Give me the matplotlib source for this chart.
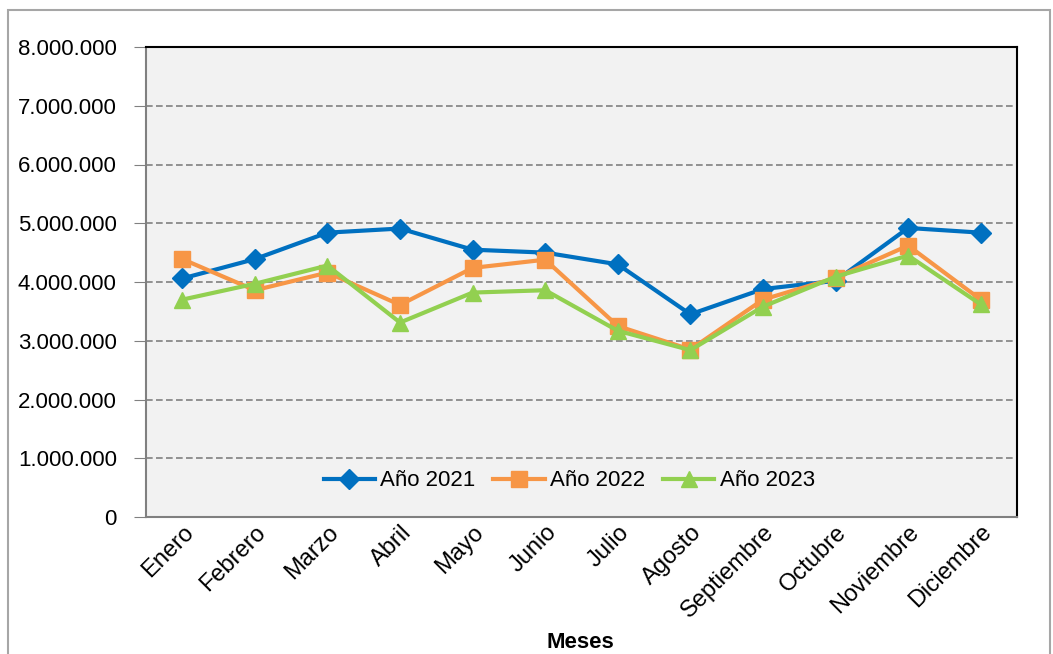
import matplotlib
matplotlib.use("Agg")
import matplotlib.pyplot as plt
from matplotlib.patches import Rectangle
from matplotlib.ticker import FuncFormatter

meses = ["Enero", "Febrero", "Marzo", "Abril", "Mayo", "Junio", "Julio",
         "Agosto", "Septiembre", "Octubre", "Noviembre", "Diciembre"]
anio_2021 = [4060000, 4390000, 4840000, 4910000, 4550000, 4500000,
             4300000, 3450000, 3880000, 4020000, 4920000, 4840000]
anio_2022 = [4390000, 3860000, 4160000, 3610000, 4240000, 4380000,
             3250000, 2850000, 3700000, 4070000, 4620000, 3700000]
anio_2023 = [3700000, 3970000, 4280000, 3310000, 3820000, 3860000,
             3170000, 2840000, 3580000, 4090000, 4450000, 3620000]
yticks = [0, 1000000, 2000000, 3000000, 4000000, 5000000, 6000000, 7000000, 8000000]

plt.rcParams['font.family'] = ['Liberation Sans', 'DejaVu Sans']

fig = plt.figure(figsize=(10.53, 6.54), dpi=100)
ax = fig.add_axes([146 / 1053, 1 - 517 / 654, 871 / 1053, 470 / 654])
ax.set_facecolor("#F2F2F2")

x = range(len(meses))
ax.plot(x, anio_2021, color="#0070C0", lw=3, marker="D", ms=10, label="Año 2021", zorder=3)
ax.plot(x, anio_2022, color="#F79646", lw=3, marker="s", ms=11, label="Año 2022", zorder=3)
ax.plot(x, anio_2023, color="#92D050", lw=3, marker="^", ms=12, label="Año 2023", zorder=3)

ax.set_xlim(-0.5, 11.5)
ax.set_ylim(0, 8000000)
ax.set_yticks(yticks)
ax.yaxis.set_major_formatter(FuncFormatter(lambda v, p: f"{int(v):,}".replace(",", ".")))
ax.grid(axis="y", color="#808080", linestyle=(0, (4, 2)), lw=1.2)
ax.set_axisbelow(True)

ax.set_xticks(list(x))
ax.set_xticklabels(meses, rotation=45, ha="right", rotation_mode="anchor", fontsize=17)
ax.tick_params(axis="y", labelsize=16, length=9, color="#808080", pad=12)
ax.tick_params(axis="x", length=0, pad=3)

for s in ["left", "bottom"]:
    ax.spines[s].set_color("#808080")
    ax.spines[s].set_linewidth(1.5)
for s in ["top", "right"]:
    ax.spines[s].set_color("black")
    ax.spines[s].set_linewidth(1.5)

fig.text(580 / 1053, 1 - 642 / 654, "Meses", fontsize=16, fontweight="bold",
         ha="center", va="center")

ax.legend(loc="lower center", bbox_to_anchor=(0.486, 0.012), ncol=3, frameon=False,
          fontsize=16, handlelength=2.3, columnspacing=0.8, handletextpad=0.25)

fig.patches.append(Rectangle((8 / 1053, -0.05), 1042 / 1053, 1 - 10 / 654 + 0.05,
                             transform=fig.transFigure, fill=False,
                             edgecolor="#A6A6A6", lw=1.5))

fig.savefig("out.png", dpi=100)
